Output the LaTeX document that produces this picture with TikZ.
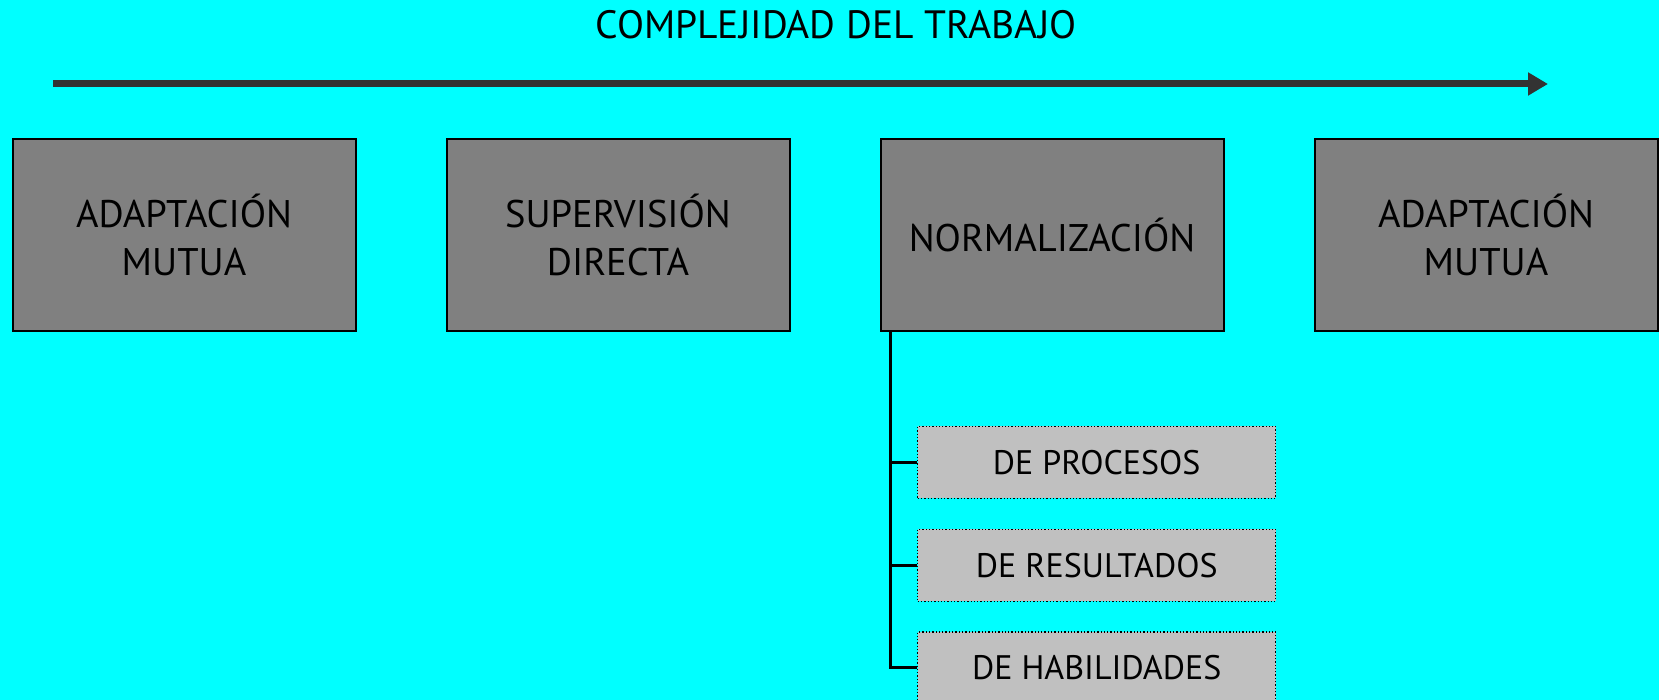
\documentclass[tikz,border=0pt]{standalone}
\usepackage{fontspec}
\setmainfont{PT Sans}
\usetikzlibrary{positioning,arrows.meta}
\definecolor{skyback}{RGB}{0,255,255}
\definecolor{boxgray}{RGB}{128,128,128}
\definecolor{subgray}{RGB}{192,192,192}

\begin{document}
\begin{tikzpicture}[x=1pt,y=1pt,
bigbox/.style={draw=black,line width=2pt,fill=boxgray,minimum width=343pt,minimum height=192pt,align=center,font=\fontsize{38.5}{48}\selectfont},
subbox/.style={draw=black,dotted,line width=1.3pt,fill=subgray,minimum width=358pt,minimum height=72pt,font=\fontsize{34}{42}\selectfont},
trunk/.style={line width=3pt,black},
node distance=89pt]

\fill[skyback] (0,0) rectangle (1659,700);
\useasboundingbox (0,0) rectangle (1659,700);

\node[font=\fontsize{39.5}{47}\selectfont] (title) at (836,675) {COMPLEJIDAD DEL TRABAJO};
\coordinate (axisL) at (53,616);
\coordinate (axisR) at (1548,616);
\draw[line width=7pt,black!80,-{Triangle[length=20pt,width=22pt]}] (axisL) -- (axisR);

\node[bigbox] (adapt1) at (184,465) {ADAPTACIÓN\\MUTUA};
\node[bigbox] (superv) [right = of adapt1] {SUPERVISIÓN\\DIRECTA};
\node[bigbox] (norm) [right = of superv] {NORMALIZACIÓN};
\node[bigbox] (adapt2) [right = of norm] {ADAPTACIÓN\\MUTUA};

\node[subbox] (proc) at (1096.7,237.5) {DE PROCESOS};
\node[subbox] (result) [below = 29.4pt of proc] {DE RESULTADOS};
\node[subbox] (habil) [below = 29.4pt of result] {DE HABILIDADES};

\coordinate (root) at ([xshift=10.7pt]norm.south west);
\draw[trunk] (root) |- (proc.west);
\draw[trunk] (root) |- (result.west);
\draw[trunk] (root) |- (habil.west);
\end{tikzpicture}
\end{document}
